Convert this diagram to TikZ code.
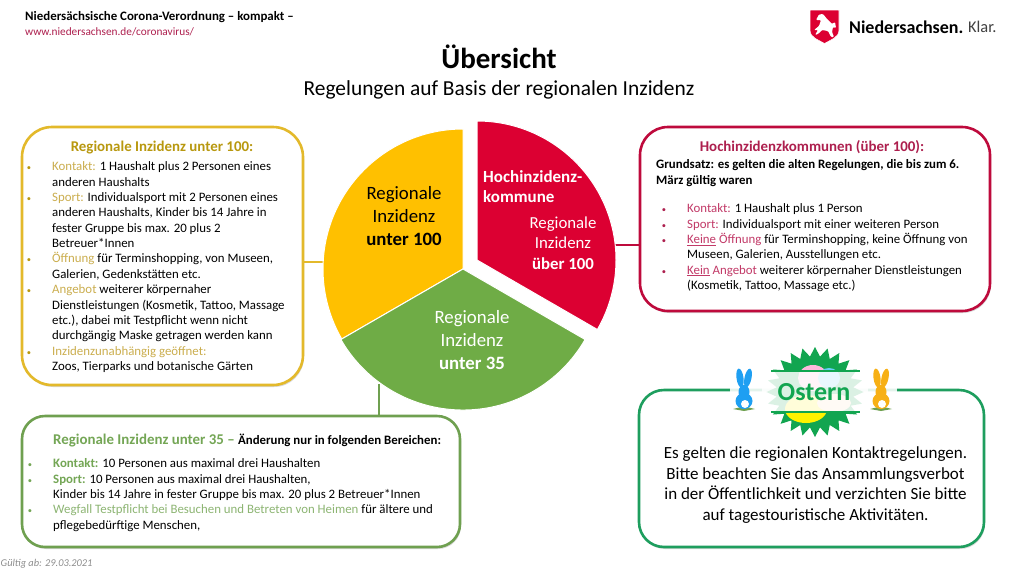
\documentclass[tikz,border=0pt]{standalone}
\usepackage{xcolor}
\usepackage{fontspec}
\setmainfont{Carlito}
\usepackage{tikz}
\usetikzlibrary{shapes.geometric,shadows}

\definecolor{pieyellow}{HTML}{FFC000}
\definecolor{piegreen}{HTML}{6FAC46}
\definecolor{piered}{HTML}{DC0032}
\definecolor{lineyellow}{HTML}{E3B92B}
\definecolor{linegreen}{HTML}{6FA050}
\definecolor{linered}{HTML}{BE0A3C}
\definecolor{lineeaster}{HTML}{1E9E5E}
\definecolor{headyellow}{HTML}{B8980F}
\definecolor{headgreen}{HTML}{74A655}
\definecolor{headred}{HTML}{AD1F4E}
\definecolor{wordyellow}{HTML}{CBAE4F}
\definecolor{wordgreen}{HTML}{8DB573}
\definecolor{wordred}{HTML}{C23A68}
\definecolor{bunblue}{HTML}{1E9FF2}
\definecolor{bunorange}{HTML}{F7B015}
\definecolor{stargreen}{HTML}{12A550}

\newcommand{\bul}[1]{\llap{\textcolor{#1}{\fontsize{8.5}{8.5}\selectfont\textbullet}\hspace{21pt}}}
\newcommand{\sizedfont}[2]{\fontsize{#1}{#2}\selectfont}

\tikzset{
    infobox/.style={rectangle,fill=white,line width=2.6pt,inner sep=0pt,
        drop shadow={opacity=0.3,shadow xshift=1pt,shadow yshift=-2pt}},
    bodytext/.style={anchor=north west,inner sep=0pt,align=left,text=black,font=\sizedfont{12.85}{15.38}},
    headtext/.style={inner sep=0pt,font=\sizedfont{14.9}{16}\bfseries},
    pietext/.style={inner sep=0pt,align=center,font=\sizedfont{18.8}{23}},
    joinline/.style={line width=2pt}
}

\begin{document}
\begin{tikzpicture}[x=1pt,y=-1pt]
    \useasboundingbox (0,0) rectangle (1013,574);
    \clip (0,0) rectangle (1013,574);

    \node[anchor=west,inner sep=0pt,font=\sizedfont{12.9}{14}\bfseries] (kopf) at (25,17) {Niedersächsische Corona-Verordnung – kompakt –};
    \node[anchor=west,inner sep=0pt,text=headred,font=\sizedfont{11.3}{14}] (link) at (25,32) {www.niedersachsen.de/coronavirus/};
    \node[inner sep=0pt,font=\sizedfont{29}{32}\bfseries] (titel) at (499,56.5) {Übersicht};
    \node[inner sep=0pt,font=\sizedfont{21.4}{24}] (untertitel) at (499,90) {Regelungen auf Basis der regionalen Inzidenz};
    \node[anchor=west,inner sep=0pt,text=black!45,font=\sizedfont{10.4}{13}\itshape] (gueltig) at (0.5,564) {Gültig ab: 29.03.2021};

    \path[fill=piered,draw=white,line width=0.6pt] (810,10) -- (839,10) -- (839,30) .. controls (839,38) and (830,40) .. (824.5,43.5) .. controls (819,40) and (810,38) .. (810,30) -- cycle;
    \path[fill=white,rounded corners=1pt] (816,20) -- (819,14.5) -- (823,14) -- (827,19) -- (832,24) -- (835,22) -- (836,28) -- (833,27) -- (832,32) -- (834,37) -- (831,37) -- (828,31) -- (822,30) -- (818,34) -- (815,35) -- (818,30) -- (814,30) -- (819,26) -- (821,20) -- cycle;
    \node[anchor=west,inner sep=0pt,font=\sizedfont{18}{20}\bfseries] (marke) at (849,27) {Niedersachsen.};
    \node[anchor=west,inner sep=0pt,text=black!75,font=\sizedfont{16.4}{20}] (klar) at (968,27) {Klar.};

    \coordinate (wedgeyellow) at (325,262);
    \coordinate (wedgered) at (614,245);
    \coordinate (wedgegreen) at (379,384);

    \node[infobox,draw=lineyellow,rounded corners=30pt,minimum width=281pt,minimum height=258pt] (boxyellow) at (162.5,256) {};
    \node[infobox,draw=linegreen,rounded corners=23pt,minimum width=438pt,minimum height=131pt] (boxgreen) at (241,481.5) {};
    \node[infobox,draw=linered,rounded corners=28pt,minimum width=350pt,minimum height=184pt] (boxred) at (815,219) {};
    \node[infobox,draw=lineeaster,rounded corners=25pt,minimum width=345pt,minimum height=157pt] (boxeaster) at (811.5,468.5) {};

    \draw[joinline,draw=lineyellow] (boxyellow.east |- wedgeyellow) -- (wedgeyellow);
    \draw[joinline,draw=linered] (boxred.west |- wedgered) -- (wedgered);
    \draw[joinline,draw=linegreen] (boxgreen.north -| wedgegreen) -- (wedgegreen);

    \path[fill=pieyellow,draw=white,line width=1pt] (463,269) -- ++(-90:140) arc[start angle=-90,end angle=-210,radius=140] -- cycle;
    \path[fill=piegreen,draw=white,line width=1pt] (463,269) -- ++(-210:141) arc[start angle=-210,end angle=-330,radius=141] -- cycle;
    \path[fill=piered,draw=white,line width=1pt] (477,260) -- ++(-90:139) arc[start angle=-90,end angle=30,radius=139] -- cycle;

    \node[pietext] (labelyellow) at (404,216) {Regionale\\Inzidenz\\\textbf{unter 100}};
    \node[pietext,text=white] (labelgreen) at (472,340) {Regionale\\Inzidenz\\\textbf{unter 35}};
    \node[pietext,text=white,font=\sizedfont{16.8}{20.7}] (labelred) at (563,243) {Regionale\\Inzidenz\\\textbf{über 100}};
    \node[anchor=north west,inner sep=0pt,align=left,text=white,font=\sizedfont{17}{20}\bfseries] (labelhoch) at (483,170) {Hochinzidenz-\\kommune};

    \node[headtext,text=headyellow] (headyellow) at (162,148) {Regionale Inzidenz unter 100:};
    \node[bodytext] (listyellow) at (52,161.5) {\bul{headyellow}\textcolor{wordyellow}{Kontakt:} 1 Haushalt plus 2 Personen eines\\
        anderen Haushalts\\
        \bul{headyellow}\textcolor{wordyellow}{Sport:} Individualsport mit 2 Personen eines\\
        anderen Haushalts, Kinder bis 14 Jahre in\\
        fester Gruppe bis max. 20 plus 2\\
        Betreuer*Innen\\
        \bul{headyellow}\textcolor{wordyellow}{Öffnung} für Terminshopping, von Museen,\\
        Galerien, Gedenkstätten etc.\\
        \bul{headyellow}\textcolor{wordyellow}{Angebot} weiterer körpernaher\\
        Dienstleistungen (Kosmetik, Tattoo, Massage\\
        etc.), dabei mit Testpflicht wenn nicht\\
        durchgängig Maske getragen werden kann\\
        \bul{headyellow}\textcolor{wordyellow}{Inzidenzunabhängig geöffnet:}\\
        Zoos, Tierparks und botanische Gärten};

    \node[anchor=west,inner sep=0pt,font=\sizedfont{14.9}{16}\bfseries] (headgreen) at (53,441) {\textcolor{headgreen}{Regionale Inzidenz unter 35 –} {\sizedfont{12.85}{16}Änderung nur in folgenden Bereichen:}};
    \node[bodytext] (listgreen) at (53,458.5) {\bul{headgreen}\textcolor{headgreen}{\textbf{Kontakt:}} 10 Personen aus maximal drei Haushalten\\
        \bul{headgreen}\textcolor{headgreen}{\textbf{Sport:}} 10 Personen aus maximal drei Haushalten,\\
        Kinder bis 14 Jahre in fester Gruppe bis max. 20 plus 2 Betreuer*Innen\\
        \bul{headgreen}\textcolor{wordgreen}{Wegfall Testpflicht bei Besuchen und Betreten von Heimen} für ältere und\\
        pflegebedürftige Menschen,};

    \node[headtext,text=headred] (headred) at (812,147.5) {Hochinzidenzkommunen (über 100):};
    \node[bodytext,font=\sizedfont{12.85}{16}\bfseries] (grundsatz) at (656,159.5) {Grundsatz: es gelten die alten Regelungen, die bis zum 6.\\März gültig waren};
    \node[bodytext] (listred) at (687,203.5) {\bul{headred}\textcolor{wordred}{Kontakt:} 1 Haushalt plus 1 Person\\
        \bul{headred}\textcolor{wordred}{Sport:} Individualsport mit einer weiteren Person\\
        \bul{headred}\textcolor{wordred}{\underline{Keine} Öffnung} für Terminshopping, keine Öffnung von\\
        Museen, Galerien, Ausstellungen etc.\\
        \bul{headred}\textcolor{wordred}{\underline{Kein} Angebot} weiterer körpernaher Dienstleistungen\\
        (Kosmetik, Tattoo, Massage etc.)};

    \fill[white,opacity=0.88] (730,382) rectangle (897,401);

    \node[star,star points=24,star point ratio=1.26,minimum size=90pt,inner sep=0pt,fill=stargreen,xscale=1.08,transform shape] (stern) at (815,392) {};
    \fill[pink!80!magenta!70] (813,378) ellipse (15 and 13);
    \fill[cyan!60] (829,378) ellipse (11 and 10);
    \fill[yellow] (806,409) ellipse (21 and 14);
    \fill[orange!25] (834,403) ellipse (17 and 9);
    \fill[white,opacity=0.85] (762,372) rectangle (868,412);
    \draw[line width=1.2pt,stargreen] (771,371) -- (860,371) (771,412) -- (860,412);
    \node[inner sep=0pt,text=stargreen,font=\sizedfont{26}{28}\bfseries] (ostern) at (814,392.5) {Ostern};

    \foreach \bx/\bcol in {744/bunblue,881/bunorange} {
        \begin{scope}[shift={(\bx,0)}]
            \fill[linegreen] (-11,409) -- (-3,407) -- (0,409) -- (3,407) -- (11,409) -- (0,411) -- cycle;
            \fill[\bcol,rotate around={8:(-4,378)}] (-4,378) ellipse (3.5 and 9.5);
            \fill[\bcol,rotate around={-12:(4,378)}] (4,378) ellipse (3.5 and 9.5);
            \fill[\bcol] (0,392) ellipse (5.5 and 7);
            \fill[\bcol] (0,401) ellipse (8.5 and 8);
            \fill[white] (1,404) circle (4);
        \end{scope}
    }

    \node[inner sep=0pt,align=center,font=\sizedfont{17}{20.6}] (textoster) at (815.5,485) {Es gelten die regionalen Kontaktregelungen.\\Bitte beachten Sie das Ansammlungsverbot\\in der Öffentlichkeit und verzichten Sie bitte\\auf tagestouristische Aktivitäten.};
\end{tikzpicture}
\end{document}
